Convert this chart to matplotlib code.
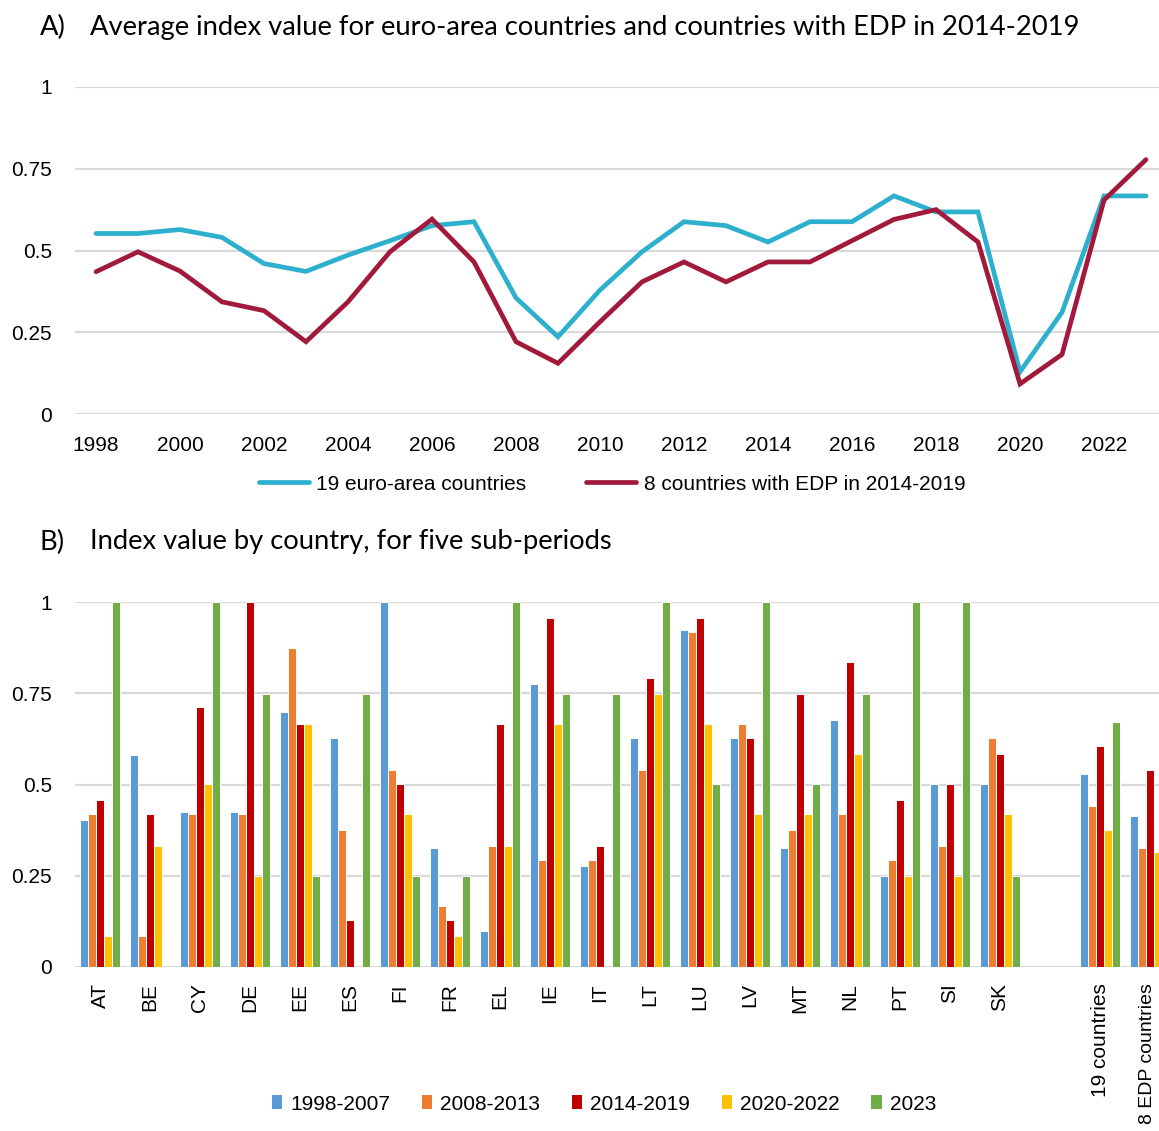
import matplotlib
matplotlib.use("Agg")
import matplotlib.pyplot as plt
import matplotlib.transforms as mtransforms
from matplotlib.lines import Line2D
from matplotlib.patches import Patch
import numpy as np

# ---------------- data ----------------
years = list(range(1998, 2024))
euro19 = [0.552, 0.552, 0.564, 0.540, 0.460, 0.436, 0.486, 0.530, 0.576, 0.588,
          0.355, 0.236, 0.379, 0.496, 0.588, 0.576, 0.526, 0.588, 0.588, 0.667,
          0.618, 0.618, 0.129, 0.311, 0.667, 0.667]
edp8 = [0.435, 0.496, 0.437, 0.343, 0.316, 0.221, 0.343, 0.496, 0.596, 0.465,
        0.221, 0.155, 0.282, 0.404, 0.465, 0.404, 0.465, 0.465, 0.530, 0.595,
        0.625, 0.526, 0.092, 0.182, 0.654, 0.778]
line_labels = ["19 euro-area countries", "8 countries with EDP in 2014-2019"]

countries = ["AT", "BE", "CY", "DE", "EE", "ES", "FI", "FR", "EL", "IE", "IT",
             "LT", "LU", "LV", "MT", "NL", "PT", "SI", "SK",
             "19 countries", "8 EDP countries"]
periods = ["1998-2007", "2008-2013", "2014-2019", "2020-2022", "2023"]
p1998_2007 = [0.404, 0.580, 0.425, 0.425, 0.699, 0.628, 1.000, 0.326, 0.100, 0.776, 0.277,
              0.628, 0.924, 0.628, 0.326, 0.677, 0.250, 0.502, 0.502, 0.529, 0.414]
p2008_2013 = [0.420, 0.084, 0.420, 0.420, 0.875, 0.376, 0.540, 0.167, 0.332, 0.293, 0.293,
              0.540, 0.919, 0.666, 0.376, 0.420, 0.293, 0.332, 0.628, 0.441, 0.326]
p2014_2019 = [0.458, 0.420, 0.711, 1.000, 0.666, 0.129, 0.502, 0.129, 0.666, 0.957, 0.332,
              0.792, 0.957, 0.628, 0.749, 0.836, 0.458, 0.502, 0.584, 0.606, 0.540]
p2020_2022 = [0.084, 0.332, 0.502, 0.250, 0.666, 0.000, 0.420, 0.084, 0.332, 0.666, 0.000,
              0.749, 0.666, 0.420, 0.420, 0.584, 0.250, 0.250, 0.420, 0.376, 0.315]
p2023 = [1.000, 0.000, 1.000, 0.749, 0.250, 0.749, 0.250, 0.250, 1.000, 0.749, 0.749,
         1.000, 0.502, 1.000, 0.502, 0.749, 1.000, 1.000, 0.250, 0.672, 0.778]
yticks = [0, 0.25, 0.5, 0.75, 1]
ytick_labels = ["0", "0.25", "0.5", "0.75", "1"]

# ---------------- style ----------------
W, H = 1159, 1131
fig = plt.figure(figsize=(W / 100, H / 100), dpi=100)
TICKFONT = ["Liberation Sans", "DejaVu Sans"]
TITLEFONT = ["Lato", "DejaVu Sans"]
LEGFONT = ["Liberation Sans", "DejaVu Sans"]
GRID = "#D9D9D9"
CYAN = "#2DB0CD"
CRIMSON = "#A11A3B"
BAR_COLORS = ["#5B9BD5", "#ED7D31", "#C00000", "#FFC000", "#70AD47"]
TICKSIZE = 15
TITLESIZE = 19.7


def fx(px):
    return px / W


def fy(py):
    return 1 - py / H


def style_axis(ax):
    for s in ax.spines.values():
        s.set_visible(False)
    ax.set_ylim(0, 1)
    ax.set_yticks(yticks)
    ax.set_yticklabels(ytick_labels, fontfamily=TICKFONT, fontsize=TICKSIZE)
    ax.yaxis.grid(True, color=GRID, linewidth=1.6)
    ax.set_axisbelow(True)
    ax.tick_params(axis="y", length=0, pad=16.5)


# ---------------- panel A ----------------
axA = fig.add_axes([fx(75), fy(414), fx(1167 - 75), (414 - 87) / H])
style_axis(axA)
axA.plot(years, euro19, color=CYAN, linewidth=3.4, solid_capstyle="round",
         solid_joinstyle="miter")
axA.plot(years, edp8, color=CRIMSON, linewidth=3.4, solid_capstyle="round",
         solid_joinstyle="miter")
axA.set_xlim(years[0] - 0.5, years[-1] + 0.5)
axA.set_xticks(years[::2])
axA.set_xticklabels([str(y) for y in years[::2]], fontfamily=TICKFONT, fontsize=TICKSIZE)
axA.tick_params(axis="x", length=0, pad=16)

fig.text(fx(40), fy(27), "A)", fontfamily=TITLEFONT, fontsize=TITLESIZE, va="center", ha="left")
fig.text(fx(90), fy(27), "Average index value for euro-area countries and countries with EDP in 2014-2019",
         fontfamily=TITLEFONT, fontsize=TITLESIZE, va="center", ha="left")

handlesA = [Line2D([0], [0], color=CYAN, linewidth=3.4, solid_capstyle="round"),
            Line2D([0], [0], color=CRIMSON, linewidth=3.4, solid_capstyle="round")]
fig.legend(handlesA, line_labels, loc="center", bbox_to_anchor=(fx(612), fy(484)),
           ncol=2, frameon=False, handlelength=2.4, handletextpad=0.34,
           columnspacing=2.9, prop={"family": LEGFONT, "size": 15})

# ---------------- panel B ----------------
axB = fig.add_axes([fx(75), fy(967), fx(1175 - 75), (967 - 602) / H])
style_axis(axB)
n_main = 19
pos = np.array([i if i < n_main else i + 1 for i in range(len(countries))], dtype=float)
series = [p1998_2007, p2008_2013, p2014_2019, p2020_2022, p2023]
step = 0.16
for k, (vals, col) in enumerate(zip(series, BAR_COLORS)):
    axB.bar(pos + (k - 2) * step, vals, width=step, color=col, edgecolor="white",
            linewidth=0.7, label=periods[k])
axB.set_xlim(-0.5, pos[-1] + 0.5)
axB.set_xticks(pos)
axB.set_xticklabels([])
axB.tick_params(axis="x", length=0)
base = mtransforms.blended_transform_factory(axB.transData, axB.transAxes)
last = len(countries) - 1
for i, (p, lab) in enumerate(zip(pos, countries)):
    dx = -3 if i == last else 0
    size = 14.0 if i == last else TICKSIZE
    axB.text(p, 0, lab,
             transform=base + mtransforms.ScaledTranslation(dx / 100, -16 / 100, fig.dpi_scale_trans),
             rotation=90, fontfamily=TICKFONT, fontsize=size, va="top", ha="center",
             clip_on=False)

fig.text(fx(40), fy(542), "B)", fontfamily=TITLEFONT, fontsize=TITLESIZE, va="center", ha="left")
fig.text(fx(90), fy(542), "Index value by country, for five sub-periods",
         fontfamily=TITLEFONT, fontsize=TITLESIZE, va="center", ha="left")

handlesB = [Patch(facecolor=c, edgecolor="none") for c in BAR_COLORS]
fig.legend(handlesB, periods, loc="center", bbox_to_anchor=(fx(604), fy(1104)),
           ncol=5, frameon=False, handlelength=0.5, handleheight=0.65,
           handletextpad=0.4, columnspacing=1.5,
           prop={"family": LEGFONT, "size": 15})

fig.savefig("out.png", dpi=100)
